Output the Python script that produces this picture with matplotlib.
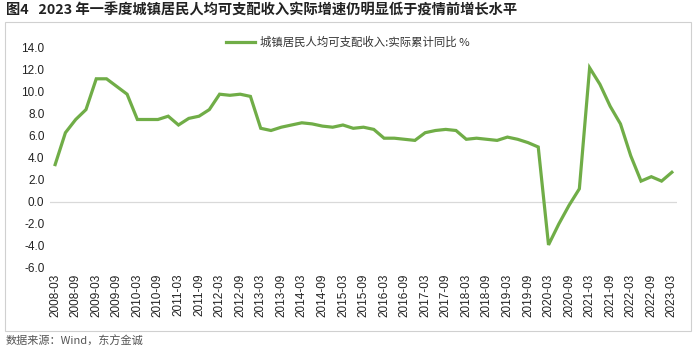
import numpy as np
import matplotlib
matplotlib.use("Agg")
import matplotlib.pyplot as plt
from matplotlib.patches import Rectangle

plt.rcParams['font.family'] = ['Noto Sans CJK SC', 'DejaVu Sans']

# quarterly labels 2008-03 .. 2023-03
quarters = [f"{y}-{m}" for y in range(2008, 2024) for m in ("03", "06", "09", "12")][:61]

# real cumulative yoy growth of urban per-capita disposable income (%)
values = [3.4, 6.3, 7.5, 8.4,
          11.2, 11.2, 10.5, 9.8,
          7.5, 7.5, 7.5, 7.8,
          7.0, 7.6, 7.8, 8.4,
          9.8, 9.7, 9.8, 9.6,
          6.7, 6.5, 6.8, 7.0,
          7.2, 7.1, 6.9, 6.8,
          7.0, 6.7, 6.8, 6.6,
          5.8, 5.8, 5.7, 5.6,
          6.3, 6.5, 6.6, 6.5,
          5.7, 5.8, 5.7, 5.6,
          5.9, 5.7, 5.4, 5.0,
          -3.9, -2.0, -0.3, 1.2,
          12.2, 10.7, 8.7, 7.1,
          4.2, 1.9, 2.3, 1.9,
          2.7]

yticks = np.arange(-6, 15, 2)

fig = plt.figure(figsize=(6.99, 3.51), dpi=100)
ax = fig.add_axes([50 / 699, 1 - 268 / 351, 627 / 699, 220 / 351])

x = np.arange(len(values))
ax.plot(x, values, color="#70AD47", lw=2.3, solid_joinstyle="miter",
        label="城镇居民人均可支配收入:实际累计同比 %")
ax.axhline(0, color="#d9d9d9", lw=0.9, zorder=0)

ax.set_xlim(-0.5, len(values) - 0.5)
ax.set_ylim(-6, 14)
ax.set_yticks(yticks)
ax.set_yticklabels([f"{v:.1f}" for v in yticks], fontsize=8.5,
                   family=["Liberation Sans"], color="#222222")
ax.set_xticks(x[::2])
ax.set_xticklabels(quarters[::2], rotation=90, fontsize=8.5,
                   family=["Liberation Sans"], color="#222222")
ax.tick_params(length=0, pad=4)
for s in ax.spines.values():
    s.set_visible(False)

leg = ax.legend(loc="upper center", bbox_to_anchor=(0.475, 1.10), frameon=False,
                fontsize=8.2, handlelength=2.6, handletextpad=0.4)
for t in leg.get_texts():
    t.set_color("#333333")

# outer frame
fig.patches.append(Rectangle((5 / 699, 1 - 331 / 351), 686 / 699, 309 / 351,
                             transform=fig.transFigure, fill=False,
                             edgecolor="#d0d0d0", lw=0.8))

fig.text(6 / 699, 1 - 11 / 351, "图4   2023 年一季度城镇居民人均可支配收入实际增速仍明显低于疫情前增长水平",
         fontsize=10.3, fontweight="bold", color="#222222", va="center", ha="left")
fig.text(6 / 699, 1 - 341 / 351, "数据来源：Wind，东方金诚",
         fontsize=8, color="#555555", va="center", ha="left")

fig.savefig("out.png", dpi=100)
